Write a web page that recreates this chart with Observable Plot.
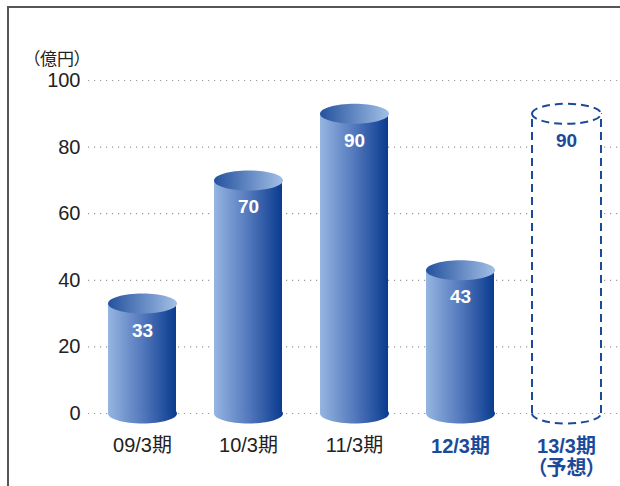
<!DOCTYPE html>
<html>
<head>
<meta charset="utf-8">
<script src="https://cdn.jsdelivr.net/npm/d3@7"></script>
<script src="https://cdn.jsdelivr.net/npm/@observablehq/plot@0.6"></script>
<style>
  html, body { margin: 0; padding: 0; background: #fff; }
  #wrap { position: relative; width: 620px; height: 486px; overflow: hidden; }
  #border { position: absolute; left: 7px; top: 6px; right: -10px; bottom: -10px;
            border-top: 2px solid #555; border-left: 2px solid #555; pointer-events: none; }
  svg text { font-feature-settings: "palt"; }
</style>
</head>
<body>
<div id="wrap"><div id="border"></div></div>
<script>
const categories = ["09/3期", "10/3期", "11/3期", "12/3期", "13/3期"];
const values = [33, 70, 90, 43, 90];
const isForecast = [false, false, false, false, true];
const xLabels = ["09/3期", "10/3期", "11/3期", "12/3期", "13/3期\n（予想）"];
const yTicks = [0, 20, 40, 60, 80, 100];
const unitLabel = "（億円）";

const data = categories.map((c, i) => ({cat: c, value: values[i], forecast: isForecast[i], label: xLabels[i]}));
const actual = data.filter(d => !d.forecast);
const fc = data.filter(d => d.forecast);
const normalLabels = data.filter((d, i) => i < 3);
const boldLabels = data.filter((d, i) => i >= 3);

const W = 620, H = 486, ML = 88, MR = 0, MT = 80, MB = 73;
const PI_ = 0.354, PO_ = 0.1686;
const step = (W - ML - MR) / (categories.length - PI_ + 2 * PO_);
const rx = step * (1 - PI_) / 2, ry = 10;
const K = 0.5523;

const fullEllipse = {draw(ctx) {
  ctx.moveTo(-rx, 0);
  ctx.bezierCurveTo(-rx, -ry * K, -rx * K, -ry, 0, -ry);
  ctx.bezierCurveTo(rx * K, -ry, rx, -ry * K, rx, 0);
  ctx.bezierCurveTo(rx, ry * K, rx * K, ry, 0, ry);
  ctx.bezierCurveTo(-rx * K, ry, -rx, ry * K, -rx, 0);
  ctx.closePath();
}};
const lowerHalf = {draw(ctx) {
  ctx.moveTo(-rx, 0);
  ctx.bezierCurveTo(-rx, ry * K, -rx * K, ry, 0, ry);
  ctx.bezierCurveTo(rx * K, ry, rx, ry * K, rx, 0);
}};

const blue = "#1b4a9b";
const font = "'Liberation Sans', Arial, 'Noto Sans CJK JP', sans-serif";

const svg = Plot.plot({
  width: W, height: H,
  marginLeft: ML, marginRight: MR, marginTop: MT, marginBottom: MB,
  style: {fontFamily: font, fontSize: "20px", background: "transparent", overflow: "visible"},
  x: {domain: categories, paddingInner: PI_, paddingOuter: PO_, axis: null},
  y: {domain: [0, 100], axis: null},
  marks: [
    Plot.ruleY(yTicks, {stroke: "#9a9a9a", strokeWidth: 1.2, strokeDasharray: "1.2,4.8"}),
    Plot.axisY({ticks: yTicks, tickSize: 0, tickPadding: 8, fontSize: 20, fill: "#222", label: null}),
    Plot.text([unitLabel], {frameAnchor: "top-left", dx: -57, dy: -21, textAnchor: "start", lineAnchor: "middle", fontSize: 17, fill: "#222"}),
    // actual cylinders
    Plot.dot(actual, {x: "cat", y: 0, symbol: fullEllipse, r: 10, fill: "url(#bodyGrad)", stroke: "none"}),
    Plot.barY(actual, {x: "cat", y: "value", fill: "url(#bodyGrad)"}),
    Plot.dot(actual, {x: "cat", y: "value", symbol: fullEllipse, r: 10, fill: "url(#topGrad)", stroke: "none"}),
    Plot.text(actual, {x: "cat", y: "value", text: d => String(d.value), dy: 27, fill: "white", fontWeight: "bold", fontSize: 19}),
    // forecast (dashed) cylinder
    Plot.barY(fc, {x: "cat", y: "value", fill: "white"}),
    Plot.ruleX(fc, {x: "cat", y1: 0, y2: "value", dx: -rx, stroke: blue, strokeWidth: 2, strokeDasharray: "8,5"}),
    Plot.ruleX(fc, {x: "cat", y1: 0, y2: "value", dx: rx, stroke: blue, strokeWidth: 2, strokeDasharray: "8,5"}),
    Plot.dot(fc, {x: "cat", y: 0, symbol: lowerHalf, r: 10, fill: "none", stroke: blue, strokeWidth: 2, strokeDasharray: "8,5"}),
    Plot.dot(fc, {x: "cat", y: "value", symbol: fullEllipse, r: 10, fill: "white", stroke: blue, strokeWidth: 2, strokeDasharray: "8,5"}),
    Plot.text(fc, {x: "cat", y: "value", text: d => String(d.value), dy: 27, fill: blue, fontWeight: "bold", fontSize: 19}),
    // category labels
    Plot.text(normalLabels, {x: "cat", text: "label", frameAnchor: "bottom", dy: 24, lineAnchor: "top", fill: "#222", fontSize: 20}),
    Plot.text(boldLabels, {x: "cat", text: "label", frameAnchor: "bottom", dy: 24, lineAnchor: "top", fill: blue, fontWeight: "bold", fontSize: 20, lineHeight: 1.1})
  ]
});

const defs = d3.select(svg).insert("defs", ":first-child");
const g1 = defs.append("linearGradient").attr("id", "bodyGrad").attr("x1", 0).attr("x2", 1).attr("y1", 0).attr("y2", 0);
g1.append("stop").attr("offset", "0%").attr("stop-color", "#95b5e1");
g1.append("stop").attr("offset", "50%").attr("stop-color", "#5479bd");
g1.append("stop").attr("offset", "100%").attr("stop-color", "#0a3b8f");
const g2 = defs.append("linearGradient").attr("id", "topGrad").attr("x1", 0).attr("x2", 1).attr("y1", 0).attr("y2", 0);
g2.append("stop").attr("offset", "0%").attr("stop-color", "#24529f");
g2.append("stop").attr("offset", "100%").attr("stop-color", "#a2bfe5");

svg.style.position = "absolute";
svg.style.left = "0px";
svg.style.top = "0px";
document.getElementById("wrap").insertBefore(svg, document.getElementById("border"));
</script>
</body>
</html>
